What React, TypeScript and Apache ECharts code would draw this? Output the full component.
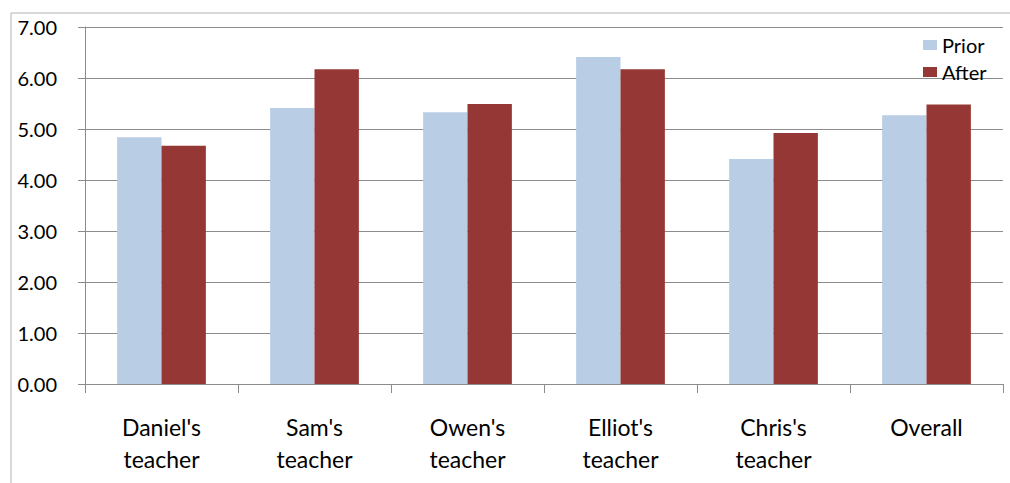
import React, { useEffect, useRef } from "react";
import * as echarts from "echarts";

// Ratings per group, before and after
const categories = [
  "Daniel's\nteacher",
  "Sam's\nteacher",
  "Owen's\nteacher",
  "Elliot's\nteacher",
  "Chris's\nteacher",
  "Overall",
];
const priorValues = [4.84, 5.41, 5.33, 6.41, 4.41, 5.27];
const afterValues = [4.67, 6.17, 5.49, 6.17, 4.92, 5.48];
const seriesNames = ["Prior", "After"];

const FONT = "Lato, 'Open Sans', sans-serif";

export default function App() {
  const ref = useRef<HTMLDivElement>(null);

  useEffect(() => {
    document.body.style.margin = "0";
    if (!ref.current) return;
    const chart = echarts.init(ref.current, undefined, { renderer: "svg" });
    chart.setOption({
      animation: false,
      backgroundColor: "#ffffff",
      textStyle: { fontFamily: FONT, color: "#000" },
      graphic: [
        {
          type: "rect",
          shape: { x: 11, y: 13, width: 1020, height: 500 },
          style: { fill: "none", stroke: "#b3b3b3", lineWidth: 1 },
          silent: true,
        },
      ],
      legend: {
        orient: "vertical",
        left: 918,
        top: 30,
        itemWidth: 14,
        itemHeight: 10,
        itemGap: 7,
        icon: "rect",
        textStyle: { fontSize: 20, lineHeight: 20, fontFamily: FONT, color: "#000" },
        data: seriesNames,
      },
      grid: { left: 85, right: 7, top: 27, bottom: 99, containLabel: false },
      xAxis: {
        type: "category",
        data: categories,
        axisLine: { lineStyle: { color: "#8c8c8c", width: 1 } },
        axisTick: { show: true, length: 9, lineStyle: { color: "#8c8c8c" } },
        axisLabel: {
          fontSize: 23,
          lineHeight: 32,
          margin: 27,
          color: "#000",
          fontFamily: FONT,
        },
      },
      yAxis: {
        type: "value",
        min: 0,
        max: 7,
        interval: 1,
        axisLine: { show: true, lineStyle: { color: "#8c8c8c", width: 1 } },
        axisTick: { show: true, length: 7, lineStyle: { color: "#8c8c8c" } },
        splitLine: { lineStyle: { color: "#8c8c8c", width: 1 } },
        axisLabel: {
          fontSize: 20,
          margin: 28,
          color: "#000",
          fontFamily: FONT,
          formatter: (v: number) => v.toFixed(2),
        },
      },
      series: [
        {
          name: seriesNames[0],
          type: "bar",
          data: priorValues,
          barGap: "0%",
          barCategoryGap: "42%",
          itemStyle: { color: "#B9CDE5" },
        },
        {
          name: seriesNames[1],
          type: "bar",
          data: afterValues,
          barGap: "0%",
          barCategoryGap: "42%",
          itemStyle: { color: "#953735" },
        },
      ],
    });
    return () => chart.dispose();
  }, []);

  return <div ref={ref} style={{ width: 1010, height: 483 }} />;
}
